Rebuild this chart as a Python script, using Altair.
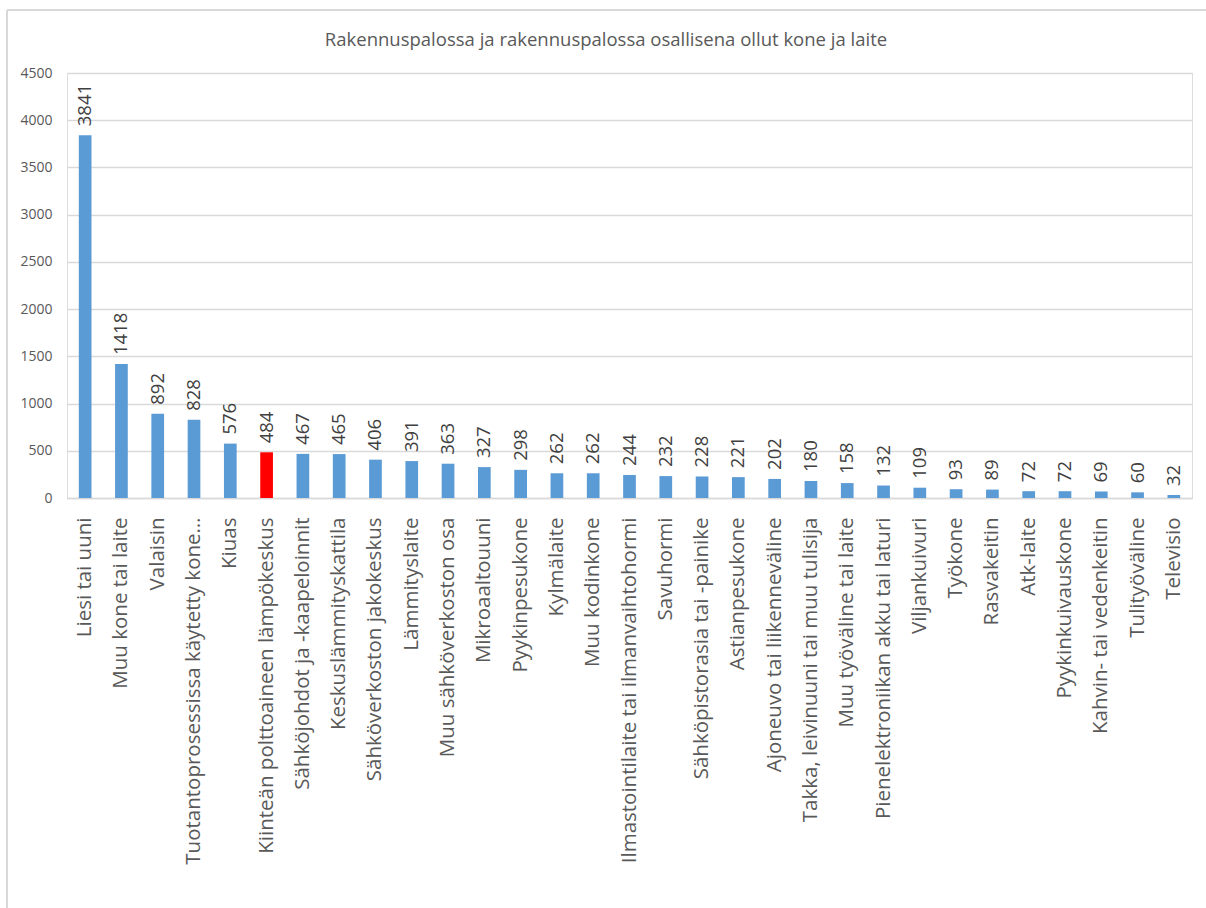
import altair as alt
import pandas as pd

# Building fires: equipment involved
categories = [
    "Liesi tai uuni", "Muu kone tai laite", "Valaisin",
    "Tuotantoprosessissa käytetty kone…", "Kiuas",
    "Kiinteän polttoaineen lämpökeskus", "Sähköjohdot ja -kaapeloinnit",
    "Keskuslämmityskattila", "Sähköverkoston jakokeskus", "Lämmityslaite",
    "Muu sähköverkoston osa", "Mikroaaltouuni", "Pyykinpesukone",
    "Kylmälaite", "Muu kodinkone", "Ilmastointilaite tai ilmanvaihtohormi",
    "Savuhormi", "Sähköpistorasia tai -painike", "Astianpesukone",
    "Ajoneuvo tai liikenneväline", "Takka, leivinuuni tai muu tulisija",
    "Muu työväline tai laite", "Pienelektroniikan akku tai laturi",
    "Viljankuivuri", "Työkone", "Rasvakeitin", "Atk-laite",
    "Pyykinkuivauskone", "Kahvin- tai vedenkeitin", "Tulityöväline",
    "Televisio",
]
counts = [
    3841, 1418, 892, 828, 576, 484, 467, 465, 406, 391, 363, 327, 298,
    262, 262, 244, 232, 228, 221, 202, 180, 158, 132, 109, 93, 89, 72,
    72, 69, 60, 32,
]
highlighted = ["Kiinteän polttoaineen lämpökeskus"]
y_ticks = [0, 500, 1000, 1500, 2000, 2500, 3000, 3500, 4000, 4500]
title_text = ["Rakennuspalossa ja rakennuspalossa osallisena ollut kone ja laite"]

df = pd.DataFrame({"laite": categories, "maara": counts})
df["korostus"] = df["laite"].isin(highlighted).map({True: "kyllä", False: "ei"})
title_df = pd.DataFrame({"otsikko": title_text})

FONT = "Open Sans"
TEXT = "#595959"
PLOT_W, PLOT_H = 1125, 425

x_enc = alt.X(
    "laite:N",
    sort=None,
    scale=alt.Scale(paddingInner=0.65, paddingOuter=0.325),
    axis=alt.Axis(
        title=None, labelAngle=270, ticks=False, labelPadding=19,
        labelFontSize=20.5, labelColor=TEXT, labelFont=FONT, labelLimit=0,
        domainColor="#d9d9d9", domainWidth=1.5,
    ),
)
y_enc = alt.Y(
    "maara:Q",
    scale=alt.Scale(domain=[0, 4500], nice=False),
    axis=alt.Axis(
        title=None, values=y_ticks, format="d", ticks=False, domain=False,
        labelPadding=15, labelFontSize=14, labelColor=TEXT, labelFont=FONT,
        gridColor="#d9d9d9", gridWidth=1.3,
    ),
)

bars = alt.Chart(df).mark_bar().encode(
    x=x_enc,
    y=y_enc,
    color=alt.Color(
        "korostus:N",
        scale=alt.Scale(domain=["ei", "kyllä"], range=["#5b9bd5", "#ff0000"]),
        legend=None,
    ),
)

values = alt.Chart(df).mark_text(
    angle=270, align="left", baseline="middle", dx=9,
    font=FONT, fontSize=18.5, color="#404040",
).encode(x=alt.X("laite:N", sort=None), y="maara:Q", text="maara:Q")

title = alt.Chart(title_df).mark_text(
    font=FONT, fontSize=18.5, color=TEXT, align="center", baseline="middle",
).encode(x=alt.value(539), y=alt.value(-33), text="otsikko:N")

# light frame around the whole figure (top and left edges)
frame_top = alt.Chart(title_df).mark_rule(color="#d9d9d9", strokeWidth=2).encode(
    x=alt.value(-60), x2=alt.value(1139), y=alt.value(-63)
)
frame_left = alt.Chart(title_df).mark_rule(color="#d9d9d9", strokeWidth=2).encode(
    x=alt.value(-60), y=alt.value(-63), y2=alt.value(835)
)

chart = (
    alt.layer(bars, values, title, frame_top, frame_left)
    .properties(
        width=PLOT_W,
        height=PLOT_H,
        autosize=alt.AutoSizeParams(type="none"),
        padding={"left": 67, "top": 73, "right": 14, "bottom": 410},
    )
    .configure_view(stroke=None)
    .configure(background="white")
)

chart.save("out.html", embed_options={"renderer": "svg", "actions": False})
